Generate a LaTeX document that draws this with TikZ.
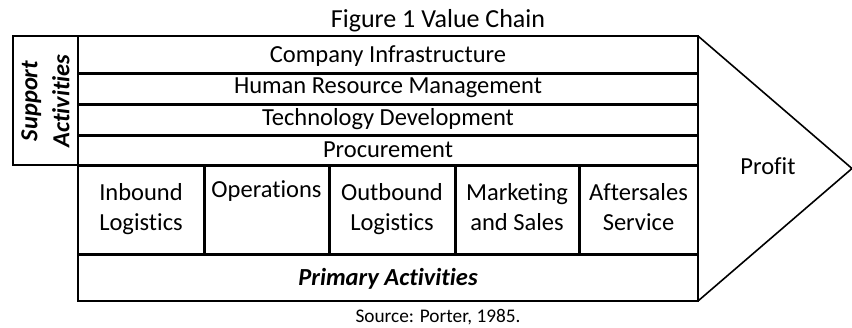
\documentclass[tikz,border=0pt]{standalone}
\usepackage{fontspec}
\setmainfont{Carlito}[Ligatures=NoCommon, Contextuals=NoAlternate]

\begin{document}
\begin{tikzpicture}[x=1pt, y=-1pt,
    frame/.style={line width=1.6pt},
    band/.style={line width=3pt},
    txt/.style={inner sep=0pt, font=\fontsize{24.5}{30}\selectfont},
    cell/.style={txt, align=center}]
    \useasboundingbox (0,0) rectangle (852,327);

    % corners of the chain body and the profit tip
    \coordinate (nw) at (78,36);
    \coordinate (se) at (698,301);
    \coordinate (ne) at (698,36);
    \coordinate (tip) at (852,168.5);

    % support activities rows
    \foreach \y in {73,104,135,165}
        \draw[band] (78,\y) -- (698,\y);
    \draw[band] (78,254) -- (698,254);
    % primary activity columns
    \foreach \x in {204,329,455,579}
        \draw[band] (\x,165) -- (\x,254);

    \draw[frame] (13,36) rectangle (78,165);
    \draw[frame] (nw) rectangle (se);
    \draw[frame] (ne) -- (tip) -- (se);

    \node[txt, anchor=base, font=\fontsize{26}{30}\selectfont] (title) at (438,27) {Figure 1 Value Chain};

    \node[txt, anchor=base] (infra) at (388,62) {Company Infrastructure};
    \node[txt, anchor=base] (hrm) at (388,93) {Human Resource Management};
    \node[txt, anchor=base] (tech) at (388,125) {Technology Development};
    \node[txt, anchor=base] (proc) at (388,157) {Procurement};

    % \strut keeps the two-line cells on the same baselines
    \node[cell] (inbound) at (141,209) {\strut Inbound\\\strut Logistics};
    \node[txt, anchor=base] (ops) at (266.5,197) {Operations};
    \node[cell] (outbound) at (392,209) {\strut Outbound\\\strut Logistics};
    \node[cell] (market) at (517,209) {\strut Marketing\\\strut and Sales};
    \node[cell] (after) at (638.5,209) {\strut Aftersales\\\strut Service};

    \node[txt, anchor=base, font=\fontsize{24.5}{30}\selectfont\bfseries\itshape] (primary) at (388,285) {Primary Activities};
    \node[cell, rotate=90, font=\fontsize{24.5}{32}\selectfont\bfseries\itshape] (support) at (45.5,101) {Support\\Activities};

    \node[txt] (profit) at (768,166) {Profit};

    \node[txt, anchor=base, font=\fontsize{19.3}{24}\selectfont] (source) at (438,322) {Source: Porter, 1985.};
\end{tikzpicture}
\end{document}
